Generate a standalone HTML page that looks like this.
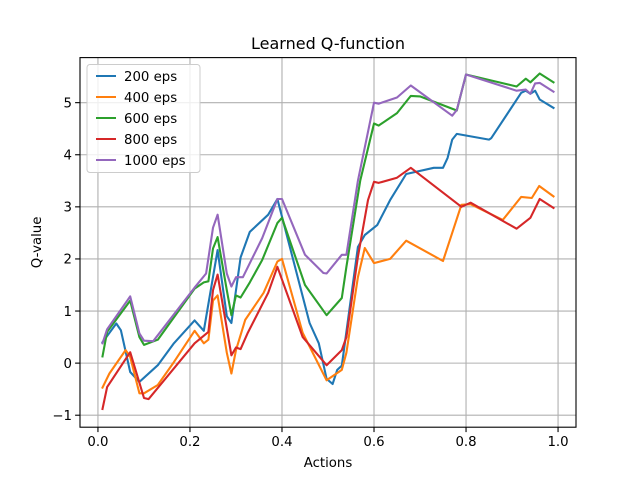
<!DOCTYPE html>
<html><head><meta charset="utf-8"><style>body{margin:0;background:#fff}svg{display:block;font-family:"DejaVu Sans","Liberation Sans",sans-serif}</style></head>
<body>
<svg id="chart" width="640" height="480" xmlns="http://www.w3.org/2000/svg"></svg>
<script>
const xTicks = [0.0, 0.2, 0.4, 0.6, 0.8, 1.0];
const xTickLabels = ["0.0", "0.2", "0.4", "0.6", "0.8", "1.0"];
const yTicks = [-1, 0, 1, 2, 3, 4, 5];
const yTickLabels = ["−1", "0", "1", "2", "3", "4", "5"];
const seriesNames = ["200 eps", "400 eps", "600 eps", "800 eps", "1000 eps"];
const x200 = [0.01,0.04,0.05,0.07,0.09,0.13,0.165,0.21,0.23,0.26,0.28,0.29,0.31,0.33,0.37,0.39,0.46,0.48,0.497,0.51,0.52,0.53,0.565,0.58,0.607,0.635,0.67,0.73,0.75,0.76,0.77,0.78,0.85,0.855,0.92,0.93,0.94,0.95,0.96,0.99];
const y200 = [0.4,0.76,0.63,-0.17,-0.36,-0.04,0.38,0.82,0.62,2.17,0.9,0.77,2.03,2.52,2.85,3.15,0.77,0.38,-0.3,-0.4,-0.13,-0.05,2.23,2.46,2.65,3.13,3.63,3.75,3.75,3.94,4.29,4.4,4.29,4.32,5.19,5.23,5.17,5.23,5.06,4.9];
const x400 = [0.01,0.025,0.06,0.07,0.09,0.10,0.13,0.165,0.21,0.23,0.24,0.25,0.26,0.28,0.29,0.30,0.32,0.36,0.39,0.40,0.445,0.497,0.53,0.54,0.565,0.58,0.60,0.635,0.67,0.75,0.79,0.81,0.88,0.92,0.943,0.959,0.99];
const y400 = [-0.47,-0.2,0.25,0.12,-0.58,-0.58,-0.42,0.02,0.62,0.38,0.45,1.2,1.3,0.2,-0.2,0.25,0.83,1.35,1.95,2.0,0.58,-0.33,-0.13,0.2,1.65,2.21,1.92,2.0,2.35,1.96,3.04,3.05,2.75,3.19,3.17,3.4,3.2];
const x600 = [0.01,0.02,0.07,0.09,0.10,0.13,0.21,0.23,0.24,0.25,0.26,0.28,0.29,0.30,0.31,0.33,0.357,0.39,0.40,0.45,0.497,0.53,0.54,0.57,0.60,0.61,0.65,0.68,0.70,0.78,0.80,0.91,0.93,0.94,0.96,0.99];
const y600 = [0.13,0.6,1.2,0.5,0.35,0.45,1.43,1.55,1.57,2.2,2.42,1.4,0.92,1.3,1.26,1.55,1.98,2.69,2.79,1.5,0.92,1.25,1.85,3.5,4.6,4.56,4.8,5.13,5.12,4.85,5.54,5.31,5.46,5.39,5.56,5.39];
const x800 = [0.01,0.02,0.07,0.10,0.11,0.21,0.24,0.25,0.26,0.29,0.30,0.31,0.325,0.37,0.39,0.445,0.497,0.53,0.54,0.565,0.587,0.60,0.61,0.65,0.68,0.79,0.81,0.91,0.94,0.96,0.99];
const y800 = [-0.88,-0.46,0.21,-0.67,-0.69,0.38,0.6,1.4,1.7,0.15,0.3,0.27,0.57,1.35,1.85,0.5,-0.04,0.25,0.5,2.04,3.13,3.48,3.46,3.56,3.75,3.0,3.08,2.58,2.79,3.15,2.98];
const x1000 = [0.01,0.02,0.07,0.09,0.10,0.12,0.21,0.235,0.25,0.26,0.28,0.29,0.30,0.315,0.357,0.39,0.40,0.45,0.49,0.497,0.53,0.54,0.565,0.60,0.61,0.65,0.68,0.77,0.78,0.80,0.91,0.93,0.94,0.95,0.96,0.99];
const y1000 = [0.38,0.65,1.28,0.57,0.43,0.42,1.45,1.72,2.6,2.85,1.72,1.47,1.65,1.65,2.4,3.15,3.15,2.08,1.73,1.72,2.08,2.08,3.5,5.0,4.98,5.1,5.33,4.75,4.86,5.54,5.23,5.25,5.17,5.37,5.38,5.21];

const colors = ["#1f77b4","#ff7f0e","#2ca02c","#d62728","#9467bd"];
const seriesX = [x200,x400,x600,x800,x1000];
const seriesY = [y200,y400,y600,y800,y1000];
const L=80,R=576,T=57.6,B=427.2;
const xmin=-0.039,xmax=1.039,ymin=-1.23,ymax=5.865;
function sx(v){return L+(v-xmin)/(xmax-xmin)*(R-L);}
function sy(v){return B-(v-ymin)/(ymax-ymin)*(B-T);}
const svg=document.getElementById('chart');
const NS="http://www.w3.org/2000/svg";
function mk(tag,attrs,parent){const e=document.createElementNS(NS,tag);for(const k in attrs)e.setAttribute(k,attrs[k]);(parent||svg).appendChild(e);return e;}

const grid=mk('g',{});


xTicks.forEach((t,i)=>{
  const l=mk('line',{x1:sx(t),x2:sx(t),y1:T,y2:B,stroke:'#b0b0b0','stroke-width':1.1},grid);
  
  
  mk('line',{x1:sx(t),x2:sx(t),y1:B,y2:B+4.9,stroke:'#000','stroke-width':1.1});
  const tx=mk('text',{x:sx(t),y:B+19,'font-size':13.3,'text-anchor':'middle',fill:'#000'});
  tx.textContent=xTickLabels[i];
  
  
});
yTicks.forEach((t,i)=>{
  const l=mk('line',{x1:L,x2:R,y1:sy(t),y2:sy(t),stroke:'#b0b0b0','stroke-width':1.1},grid);
  
  
  mk('line',{x1:L-4.9,x2:L,y1:sy(t),y2:sy(t),stroke:'#000','stroke-width':1.1});
  const tx=mk('text',{x:L-8,y:sy(t)+4.8,'font-size':13.3,'text-anchor':'end',fill:'#000'});
  tx.textContent=yTickLabels[i];
  
  
});
seriesX.forEach((xs,s)=>{
  const pts=xs.map((x,i)=>sx(x).toFixed(1)+','+sy(seriesY[s][i]).toFixed(1)).join(' ');
  const p=mk('polyline',{points:pts,fill:'none',stroke:colors[s],'stroke-width':2.1,'stroke-linejoin':'round','stroke-linecap':'square'});
  
  
});
const frame=mk('rect',{x:L,y:T,width:R-L,height:B-T,fill:'none',stroke:'#000','stroke-width':1.1});


const title=mk('text',{x:(L+R)/2,y:49,'font-size':16,'text-anchor':'middle',fill:'#000'});
title.textContent='Learned Q-function';


const xl=mk('text',{x:(L+R)/2,y:467,'font-size':13.3,'text-anchor':'middle',fill:'#000'});
xl.textContent='Actions';


const yl=mk('text',{x:0,y:0,'font-size':13.3,'text-anchor':'middle',fill:'#000',transform:'translate(41,'+((T+B)/2)+') rotate(-90)'});
yl.textContent='Q-value';


const lg=mk('g',{});


mk('rect',{x:87,y:64.5,width:113,height:108,rx:3,fill:'#fff','fill-opacity':0.8,stroke:'#ccc','stroke-width':1},lg);
seriesNames.forEach((n,i)=>{
  const y=76+i*21;
  const ent=mk('g',{},lg);
  
  
  mk('line',{x1:96,x2:116,y1:y,y2:y,stroke:colors[i],'stroke-width':2.1},ent);
  const t=mk('text',{x:124,y:y+4.8,'font-size':13.3,fill:'#000'},ent);
  t.textContent=n;
});
</script>
</body></html>
